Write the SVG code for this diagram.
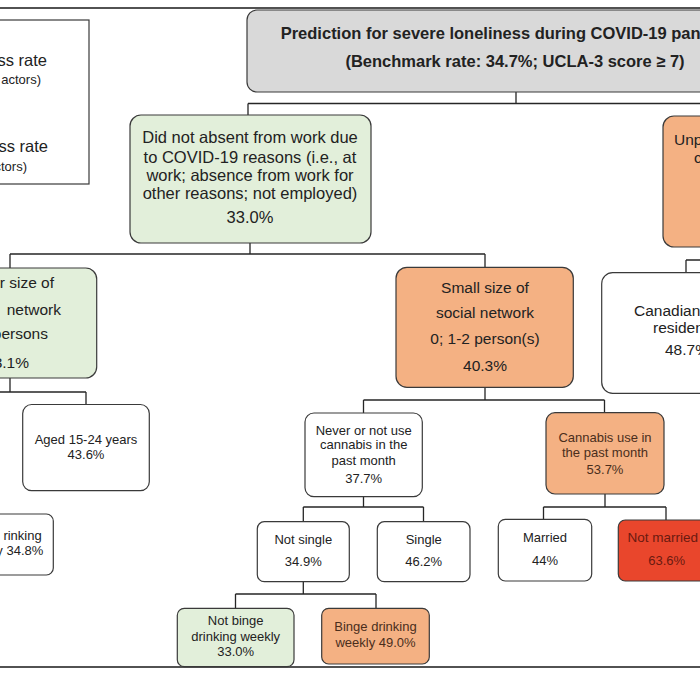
<svg xmlns="http://www.w3.org/2000/svg" width="700" height="700" viewBox="0 0 700 700">
<style>
  .bx{stroke:#3a3a3a;stroke-width:1.2}
  .gray{fill:#d9d9d9}
  .green{fill:#e2efda}
  .orange{fill:#f4b183}
  .white{fill:#ffffff}
  .red{fill:#e9462c}
  .t{font-family:"Liberation Sans",Arial,sans-serif;fill:#222222}
  .L{font-size:15.5px}
  .XL{font-size:16.5px}
  .S{font-size:13px}
  .b{font-weight:bold}
  .m{text-anchor:middle}
  .e{text-anchor:end}
  .dk{fill:#4a2e1c}
  .dr{fill:#6b1a10}
  .ln{fill:none;stroke:#262626;stroke-width:1.3}
  .frame{fill:none;stroke:#1a1a1a;stroke-width:1.6}
</style>
<rect x="0" y="0" width="700" height="700" fill="#ffffff"/>

<g id="frame">
  <path class="frame" d="M0,8 H700 M0,667 H700"/>
</g>

<g id="connectors">
  <path class="ln" d="M516,92 V103.5 M248,103.5 H710 M248,103.5 V115"/>
  <path class="ln" d="M250,243 V254 M10,254 H485 M10,254 V268 M485,254 V267"/>
  <path class="ln" d="M686,260 H710 M686,260 V273"/>
  <path class="ln" d="M10,378 V392 M-10,392 H86 M86,392 V404"/>
  <path class="ln" d="M485,387 V400 M363.5,400 H604.5 M363.5,400 V413 M604.5,400 V413"/>
  <path class="ln" d="M363.5,497 V507 M303.3,507 H423.5 M303.3,507 V522 M423.5,507 V522"/>
  <path class="ln" d="M605,494 V507 M543.5,507 H666 M543.5,507 V519.5 M666,507 V520"/>
  <path class="ln" d="M303.3,582 V594 M235.5,594 H376 M235.5,594 V608 M376,594 V608"/>
</g>

<g id="legend">
  <rect class="bx white" x="-50" y="20" width="139" height="164"/>
  <text class="t XL e" x="47" y="65.7">ess rate</text>
  <text class="t e" style="font-size:13px" x="41" y="84">actors)</text>
  <text class="t XL e" x="48" y="152">ess rate</text>
  <text class="t e" style="font-size:13px" x="27" y="171">ctors)</text>
</g>

<g id="root">
  <rect class="bx gray" x="247" y="10" width="560" height="82" rx="10"/>
  <text class="t XL b" x="280.7" y="39">Prediction for severe loneliness during COVID-19 pan</text>
  <text class="t XL b m" x="515" y="67">(Benchmark rate: 34.7%; UCLA-3 score ≥ 7)</text>
</g>

<g id="not-absent">
  <rect class="bx green" x="130" y="115" width="241" height="128" rx="11"/>
  <text class="t XL m" x="250" y="143">Did not absent from work due</text>
  <text class="t XL m" x="250" y="163">to COVID-19 reasons (i.e., at</text>
  <text class="t XL m" x="250" y="181">work; absence from work for</text>
  <text class="t XL m" x="250" y="199">other reasons; not employed)</text>
  <text class="t XL m" x="250" y="223">33.0%</text>
</g>

<g id="unpaid">
  <rect class="bx orange" x="663" y="116" width="120" height="131" rx="11"/>
  <text class="t L" x="674" y="145">Unp</text>
  <text class="t L" x="694" y="163.3">c</text>
</g>

<g id="larger-network">
  <rect class="bx green" x="-77" y="268" width="173.7" height="110" rx="11"/>
  <text class="t L e" x="54" y="288">r size of</text>
  <text class="t L e" x="61" y="314.5">network</text>
  <text class="t L e" x="48" y="339">persons</text>
  <text class="t L e" x="29" y="367.5">3.1%</text>
</g>

<g id="small-network">
  <rect class="bx orange" x="396" y="267.3" width="177.3" height="120" rx="11"/>
  <text class="t L m" x="485" y="292.7">Small size of</text>
  <text class="t L m" x="485" y="318.3">social network</text>
  <text class="t L m" x="485" y="344.3">0; 1-2 person(s)</text>
  <text class="t L m" x="485" y="370.7">40.3%</text>
</g>

<g id="canadian">
  <rect class="bx white" x="601.7" y="272.7" width="180" height="120.6" rx="11"/>
  <text class="t L" x="634" y="315.7">Canadian-</text>
  <text class="t L" x="653" y="333.3">residen</text>
  <text class="t L" x="665" y="355">48.7%</text>
</g>

<g id="aged">
  <rect class="bx white" x="22.7" y="404.5" width="126.6" height="86.2" rx="9"/>
  <text class="t S m" x="86" y="443.5">Aged 15-24 years</text>
  <text class="t S m" x="86" y="459">43.6%</text>
</g>

<g id="left-binge">
  <rect class="bx white" x="-60" y="514" width="113.3" height="61" rx="7"/>
  <text class="t S e" x="41.7" y="539.5">rinking</text>
  <text class="t S e" x="43.3" y="554.5">y 34.8%</text>
</g>

<g id="never-cannabis">
  <rect class="bx white" x="305" y="413" width="117.3" height="83.7" rx="9"/>
  <text class="t S m" x="363.7" y="434.5">Never or not use</text>
  <text class="t S m" x="363.7" y="449">cannabis in the</text>
  <text class="t S m" x="363.7" y="465">past month</text>
  <text class="t S m" x="363.7" y="483">37.7%</text>
</g>

<g id="cannabis-use">
  <rect class="bx orange" x="546" y="412.7" width="118" height="81.3" rx="9"/>
  <text class="t S m dk" x="605" y="442">Cannabis use in</text>
  <text class="t S m dk" x="605" y="457">the past month</text>
  <text class="t S m dk" x="605" y="474">53.7%</text>
</g>

<g id="not-single">
  <rect class="bx white" x="257.3" y="521.7" width="92" height="60" rx="7"/>
  <text class="t S m" x="303.3" y="544">Not single</text>
  <text class="t S m" x="303.3" y="566">34.9%</text>
</g>

<g id="single">
  <rect class="bx white" x="377.3" y="521.7" width="92.7" height="60" rx="7"/>
  <text class="t S m" x="423.7" y="544">Single</text>
  <text class="t S m" x="423.7" y="566">46.2%</text>
</g>

<g id="married">
  <rect class="bx white" x="498.3" y="519.3" width="93.4" height="61.7" rx="7"/>
  <text class="t S m" x="545" y="542">Married</text>
  <text class="t S m" x="545" y="565">44%</text>
</g>

<g id="not-married">
  <rect class="bx red" x="618.3" y="520" width="95" height="61" rx="7"/>
  <text class="t dr" style="font-size:13.5px" x="627.5" y="542">Not married</text>
  <text class="t S m dr" x="666.7" y="565">63.6%</text>
</g>

<g id="not-binge">
  <rect class="bx green" x="177.3" y="608.3" width="116.7" height="58.4" rx="7"/>
  <text class="t S m" x="235.7" y="624.5">Not binge</text>
  <text class="t S m" x="235.7" y="640.5">drinking weekly</text>
  <text class="t S m" x="235.7" y="656">33.0%</text>
</g>

<g id="binge">
  <rect class="bx orange" x="321.7" y="608.3" width="107.6" height="55.7" rx="7"/>
  <text class="t S m dk" x="375.5" y="631">Binge drinking</text>
  <text class="t S m dk" x="375.5" y="647">weekly 49.0%</text>
</g>
</svg>
